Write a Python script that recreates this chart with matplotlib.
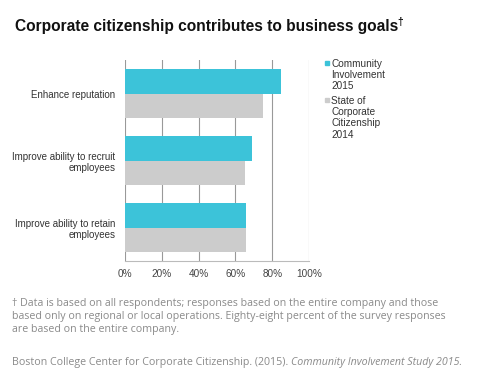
import matplotlib
matplotlib.use("Agg")
import matplotlib.pyplot as plt
import numpy as np
from matplotlib.patches import Rectangle

categories = ["Enhance reputation", "Improve ability to recruit\nemployees", "Improve ability to retain\nemployees"]
series_names = ["Community\nInvolvement\n2015", "State of\nCorporate\nCitizenship\n2014"]
values_2015 = [85, 69, 66]
values_2014 = [75, 65, 66]
tick_vals = [0, 20, 40, 60, 80, 100]
tick_labels = ["0%", "20%", "40%", "60%", "80%", "100%"]

blue = "#3cc3d9"
gray = "#cccccc"
W, H = 484, 380
fig = plt.figure(figsize=(4.84, 3.8), dpi=100)
plt.rcParams['font.family'] = ['Liberation Sans', 'DejaVu Sans']

ax = fig.add_axes([125 / W, 1 - 261 / H, (309 - 125) / W, (261 - 60) / H])
y = np.arange(len(categories))
bh = 0.36
ax.barh(y - bh / 2, values_2015, height=bh, color=blue, zorder=2)
ax.barh(y + bh / 2, values_2014, height=bh, color=gray, zorder=2)
ax.set_ylim(2.5, -0.5)
ax.set_xlim(0, 100)
ax.set_xticks(tick_vals)
ax.set_xticklabels(tick_labels, fontsize=7.2, color="#444444")
ax.set_yticks(y)
ax.set_yticklabels(categories, fontsize=7, color="#333333", ha="right", multialignment="right")
ax.tick_params(axis="both", length=0, pad=7)
ax.tick_params(axis="x", pad=6)
for s in ["top", "right", "left"]:
    ax.spines[s].set_visible(False)
ax.spines["bottom"].set_color("#bbbbbb")
ax.spines["bottom"].set_linewidth(0.8)
ax.xaxis.grid(True, color="#999999", linewidth=0.8, zorder=1)
ax.set_axisbelow(True)

# title
title = fig.text(15 / W, 1 - 26 / H, "Corporate citizenship contributes to business goals",
                 fontsize=11.2, fontweight="bold", color="#111111", va="center", ha="left")
fig.canvas.draw()
tb = title.get_window_extent()
fig.text((tb.x1 - 0.5) / W, 1 - 22 / H, "\u2020", fontsize=7.5, fontweight="bold", color="#111111",
         va="center", ha="left")

# legend
for i, (name, col, ytop) in enumerate([(series_names[0], blue, 59), (series_names[1], gray, 96)]):
    fig.patches.append(Rectangle((325 / W, 1 - (ytop + 6) / H), 4 / W, 4 / H,
                                 transform=fig.transFigure, color=col))
    fig.text(331 / W, 1 - ytop / H, name, fontsize=7.2, color="#333333", va="top", ha="left",
             linespacing=1.15)

fs = 7.7
foot = ("\u2020 Data is based on all respondents; responses based on the entire company and those\n"
        "based only on regional or local operations. Eighty-eight percent of the survey responses\n"
        "are based on the entire company.")
fig.text(12 / W, 1 - 298 / H, foot, fontsize=fs, color="#8a8a8a", va="top", ha="left",
         family=["Open Sans", "DejaVu Sans"], linespacing=1.25)
src = fig.text(12 / W, 1 - 362 / H, "Boston College Center for Corporate Citizenship. (2015). ",
               fontsize=fs, color="#8a8a8a", va="center", ha="left", family=["Open Sans", "DejaVu Sans"])
fig.canvas.draw()
bb = src.get_window_extent()
fig.text(bb.x1 / W, 1 - 362 / H, "Community Involvement Study 2015.", fontsize=fs, color="#8a8a8a",
         va="center", ha="left", style="italic", family=["Open Sans", "DejaVu Sans"])

fig.savefig("out.png", dpi=100, facecolor="white")
